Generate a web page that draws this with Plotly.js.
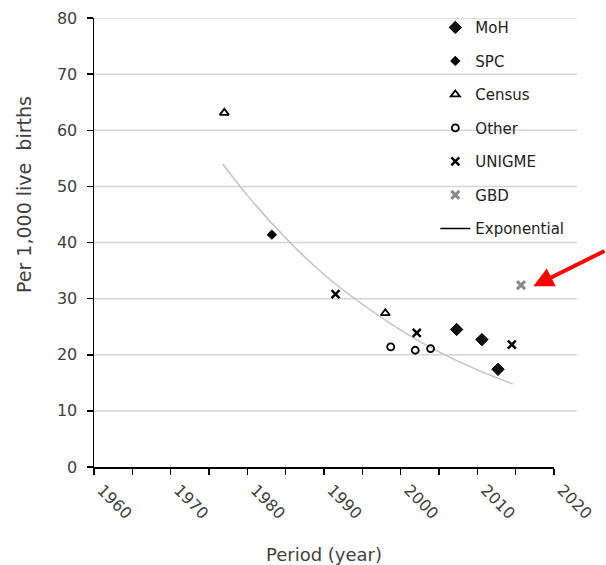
<!DOCTYPE html>
<html>
<head>
<meta charset="utf-8">
<script src="https://cdn.plot.ly/plotly-3.0.1.min.js"></script>
<style>html,body{margin:0;padding:0;background:#fff;}#chart{width:606px;height:565px;}</style>
</head>
<body>
<div id="chart"></div>
<script>
// Data
const mohYears = [2007.3, 2010.6, 2012.7];
const mohValues = [24.5, 22.7, 17.4];
const spcYears = [1983.2];
const spcValues = [41.4];
const censusYears = [1977.0, 1998.0];
const censusValues = [63.1, 27.4];
const otherYears = [1998.7, 2001.9, 2003.9];
const otherValues = [21.4, 20.8, 21.1];
const unigmeYears = [1991.5, 2002.1, 2014.5];
const unigmeValues = [30.8, 23.9, 21.8];
const gbdYears = [2015.7];
const gbdValues = [32.4];
const trendYears = [1976.8, 1980, 1985, 1990, 1995, 2000, 2005, 2010, 2014.6];
const trendValues = [54.0, 48.4, 40.8, 34.3, 29.0, 24.4, 20.5, 17.3, 14.8];
const gridValues = [10, 20, 30, 40, 50, 60, 70, 80];
const xTickValues = [1960, 1970, 1980, 1990, 2000, 2010, 2020];
const xTickLabels = ['1960', '1970', '1980', '1990', '2000', '2010', '2020'];

const FONT = 'DejaVu Sans, Verdana, sans-serif';
const TXT = '#404040';

const traces = [
  {x: trendYears, y: trendValues, mode: 'lines', line: {color: '#c3c3c3', width: 1.5, shape: 'spline'}, showlegend: false, hoverinfo: 'skip'},
  {x: mohYears, y: mohValues, name: 'MoH', legendgroup: 'a', mode: 'markers', marker: {symbol: 'diamond', size: 9.5, color: '#111', line: {color: '#000', width: 1}}},
  {x: spcYears, y: spcValues, name: 'SPC', legendgroup: 'b', mode: 'markers', marker: {symbol: 'diamond', size: 8, color: '#000'}},
  {x: censusYears, y: censusValues, name: 'Census', legendgroup: 'c', mode: 'markers', marker: {symbol: 'triangle-up-open', size: 8, color: '#000', line: {width: 1.8}}},
  {x: otherYears, y: otherValues, name: 'Other', legendgroup: 'd', mode: 'markers', marker: {symbol: 'circle-open', size: 7, color: '#000', line: {width: 1.8}}},
  {x: unigmeYears, y: unigmeValues, name: 'UNIGME', legendgroup: 'e', mode: 'markers', marker: {symbol: 'x-thin-open', size: 8, color: '#000', line: {width: 2.5, color: '#000'}}},
  {x: gbdYears, y: gbdValues, name: 'GBD', legendgroup: 'f', mode: 'markers', marker: {symbol: 'x-thin-open', size: 8, color: '#8a8a8a', line: {width: 3, color: '#8a8a8a'}}},
  {x: [null], y: [null], name: 'Exponential', legendgroup: 'g', mode: 'lines', line: {color: '#000', width: 1.5}}
];

const shapes = gridValues.map(v => ({type: 'line', xref: 'paper', yref: 'y', x0: 0, x1: 1.05, y0: v, y1: v, line: {color: '#d6d6d6', width: 1.5}, layer: 'below'}));

const layout = {
  width: 606, height: 565,
  margin: {l: 94, r: 52, t: 17, b: 98},
  paper_bgcolor: '#fff', plot_bgcolor: '#fff',
  font: {family: FONT, color: TXT, size: 15},
  showlegend: true,
  legend: {x: 0.742, y: 1.013, xanchor: 'left', yanchor: 'top', bgcolor: 'rgba(0,0,0,0)', font: {family: FONT, size: 15, color: '#222'}, traceorder: 'grouped', tracegroupgap: 11, itemwidth: 30},
  xaxis: {
    range: [1960, 2020], tickvals: xTickValues, ticktext: xTickLabels, tickangle: 45,
    ticks: 'outside', ticklen: 6, tickwidth: 1.5, tickcolor: '#000',
    minor: {dtick: 5, ticks: 'outside', ticklen: 6, tickwidth: 1.5, tickcolor: '#000', showgrid: false},
    showline: true, linecolor: '#000', linewidth: 1.5, showgrid: false, zeroline: false,
    tickfont: {family: FONT, size: 16, color: TXT}, ticklabelstandoff: 0, ticklabelshift: 8,
    title: {text: 'Period (year)', font: {family: FONT, size: 18, color: TXT}, standoff: 30}
  },
  yaxis: {
    range: [0, 80], dtick: 10, ticks: 'outside', ticklen: 6, tickwidth: 1.5, tickcolor: '#000',
    showline: true, linecolor: '#000', linewidth: 1.5, showgrid: false, zeroline: false,
    tickfont: {family: FONT, size: 16, color: TXT}, ticklabelstandoff: 6
  },
  shapes: shapes,
  annotations: [
    {xref: 'paper', yref: 'paper', x: -0.152, y: 0.606, text: 'Per 1,000 live  births', textangle: -90, showarrow: false, font: {family: FONT, size: 19, color: TXT}, xanchor: 'center', yanchor: 'middle'},
    {x: 2017.3, y: 32.2, text: '', showarrow: true, arrowhead: 2, arrowsize: 1, arrowwidth: 4, arrowcolor: '#ff0000', ax: 80, ay: -36}
  ]
};

Plotly.newPlot('chart', traces, layout, {displayModeBar: false, staticPlot: true});
</script>
</body>
</html>
